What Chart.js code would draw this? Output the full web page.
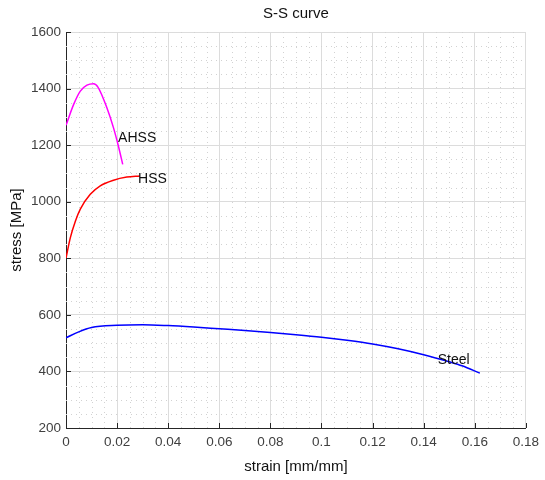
<!DOCTYPE html>
<html>
<head>
<meta charset="utf-8">
<script src="https://cdn.jsdelivr.net/npm/chart.js@4/dist/chart.umd.min.js"></script>
<style>
  html, body { margin: 0; padding: 0; background: #fff; }
  #wrap { width: 545px; height: 480px; }
</style>
</head>
<body>
<div id="wrap"><canvas id="chart"></canvas></div>
<script>
// data
const ahssStrain = [0, 0.003, 0.0056, 0.0082, 0.0108, 0.0125, 0.016, 0.0186, 0.0205, 0.0222];
const ahssStress = [1270, 1344, 1391, 1412, 1417, 1405, 1332, 1261, 1197, 1132];

const hssStrain = [0, 0.0017, 0.0037, 0.0056, 0.0095, 0.0134, 0.0186, 0.0238, 0.0289];
const hssStress = [800, 873, 932, 974, 1026, 1056, 1076, 1087, 1091];

const steelStrain = [0, 0.005, 0.01, 0.02, 0.03, 0.04, 0.05, 0.06, 0.07, 0.08, 0.09, 0.10, 0.11, 0.12, 0.13, 0.14, 0.15, 0.155, 0.162];
const steelStress = [519, 540, 555, 563, 565, 562, 557, 551, 545, 538, 530, 521, 510, 497, 480, 459, 434, 420, 394];

const labelText = ['AHSS', 'HSS', 'Steel'];
const labelStrain = [0.0204, 0.0282, 0.1455];
const labelStress = [1225, 1080, 439];

const fontFam = '"Liberation Sans", Arial, Helvetica, sans-serif';

function pts(xs, ys) {
  return xs.map(function (x, i) { return { x: x, y: ys[i] }; });
}

// minor dotted grid, inward ticks and the curve labels
const extras = {
  id: 'extras',
  beforeDatasetsDraw(chart) {
    const ctx = chart.ctx, a = chart.chartArea;
    const xs = chart.scales.x, ys = chart.scales.y;
    ctx.save();
    ctx.strokeStyle = '#d2d2d2';
    ctx.lineWidth = 1;
    ctx.setLineDash([1, 4]);
    for (let v = 0.005; v < 0.18; v += 0.005) {
      if (Math.abs(v / 0.02 - Math.round(v / 0.02)) < 1e-6) continue;
      const px = Math.round(xs.getPixelForValue(v)) + 0.5;
      ctx.beginPath(); ctx.moveTo(px, a.top); ctx.lineTo(px, a.bottom); ctx.stroke();
    }
    for (let v = 250; v < 1600; v += 50) {
      if (v % 200 === 0) continue;
      const py = Math.round(ys.getPixelForValue(v)) + 0.5;
      ctx.beginPath(); ctx.moveTo(a.left, py); ctx.lineTo(a.right, py); ctx.stroke();
    }
    ctx.restore();
  },
  afterDatasetsDraw(chart) {
    const ctx = chart.ctx, a = chart.chartArea;
    const xs = chart.scales.x, ys = chart.scales.y;
    ctx.save();
    ctx.strokeStyle = '#262626';
    ctx.lineWidth = 1;
    for (let v = 0.02; v < 0.185; v += 0.02) {
      const px = Math.round(xs.getPixelForValue(v)) + 0.5;
      ctx.beginPath(); ctx.moveTo(px, a.bottom); ctx.lineTo(px, a.bottom - 5); ctx.stroke();
    }
    for (let v = 400; v <= 1600; v += 200) {
      const py = Math.round(ys.getPixelForValue(v)) + 0.5;
      ctx.beginPath(); ctx.moveTo(a.left, py); ctx.lineTo(a.left + 5, py); ctx.stroke();
    }
    ctx.fillStyle = '#111';
    ctx.font = '14px ' + fontFam;
    ctx.textAlign = 'left';
    ctx.textBaseline = 'middle';
    labelText.forEach(function (t, i) {
      ctx.fillText(t, xs.getPixelForValue(labelStrain[i]), ys.getPixelForValue(labelStress[i]));
    });
    ctx.restore();
  }
};

const ctx = document.getElementById('chart').getContext('2d');
new Chart(ctx, {
  type: 'line',
  data: {
    datasets: [
      { label: 'AHSS', data: pts(ahssStrain, ahssStress), borderColor: '#ff00ff' },
      { label: 'HSS', data: pts(hssStrain, hssStress), borderColor: '#ff0000' },
      { label: 'Steel', data: pts(steelStrain, steelStress), borderColor: '#0000ff' }
    ]
  },
  options: {
    responsive: true,
    maintainAspectRatio: false,
    animation: false,
    layout: { padding: { left: 0, right: 16, top: 0, bottom: 0 } },
    elements: {
      point: { radius: 0 },
      line: { borderWidth: 1.5, fill: false, cubicInterpolationMode: 'monotone' }
    },
    plugins: {
      legend: { display: false },
      tooltip: { enabled: false },
      title: {
        display: true,
        text: 'S-S curve',
        color: '#111',
        font: { family: fontFam, size: 15, weight: 'normal' },
        padding: { top: 5, bottom: 9 },
        fullSize: false
      }
    },
    scales: {
      x: {
        type: 'linear',
        min: 0,
        max: 0.18,
        afterFit: function (s) { s.height = 52; },
        ticks: {
          stepSize: 0.02,
          color: '#404040',
          padding: 6,
          maxRotation: 0,
          font: { family: fontFam, size: 13.5 },
          callback: function (v) { return String(+v.toFixed(2)); }
        },
        grid: { color: '#dcdcdc', drawTicks: false },
        border: { display: true, color: '#262626', width: 1 },
        title: {
          display: true,
          text: 'strain [mm/mm]',
          color: '#111',
          font: { family: fontFam, size: 15 },
          padding: { top: 1, bottom: 4 }
        }
      },
      y: {
        type: 'linear',
        min: 200,
        max: 1600,
        afterFit: function (s) { s.width = 66; },
        ticks: {
          stepSize: 200,
          color: '#404040',
          padding: 5,
          font: { family: fontFam, size: 13.5 },
          callback: function (v) { return String(v); }
        },
        grid: { color: '#dcdcdc', drawTicks: false },
        border: { display: true, color: '#262626', width: 1 },
        title: {
          display: true,
          text: 'stress [MPa]',
          color: '#111',
          font: { family: fontFam, size: 15 },
          padding: { top: 8, bottom: 4 }
        }
      }
    }
  },
  plugins: [extras]
});
</script>
</body>
</html>
